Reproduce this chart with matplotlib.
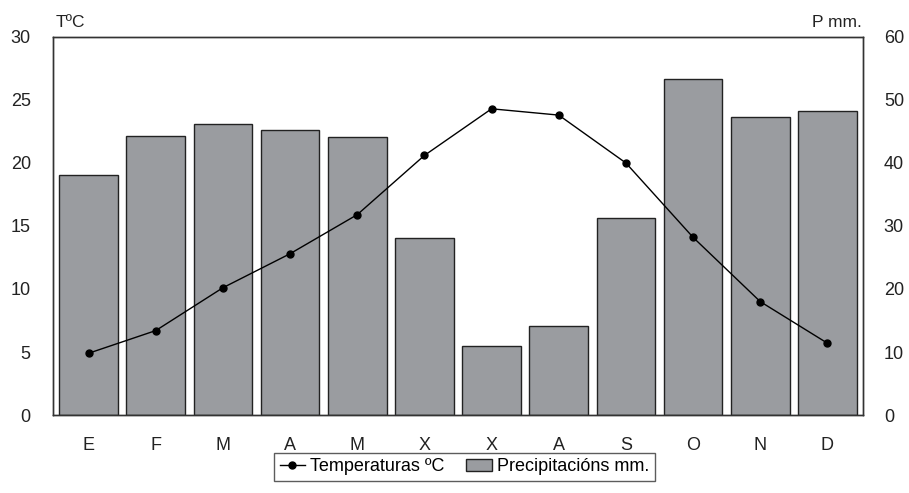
import numpy as np
import matplotlib.pyplot as plt
from matplotlib.lines import Line2D
from matplotlib.patches import Patch

plt.rcParams['font.family'] = ['Liberation Sans', 'DejaVu Sans']

months = ['E', 'F', 'M', 'A', 'M', 'X', 'X', 'A', 'S', 'O', 'N', 'D']
temp = [4.9, 6.7, 10.1, 12.8, 15.9, 20.6, 24.3, 23.8, 20.0, 14.1, 9.0, 5.7]
precip = [38.1, 44.3, 46.2, 45.2, 44.1, 28.1, 11.0, 14.1, 31.3, 53.3, 47.3, 48.3]

bar_color = '#9a9ca0'
x = np.arange(len(months))

fig = plt.figure(figsize=(9.09, 4.93), dpi=100)
ax = fig.add_axes([0.0583, 0.1582, 0.8911, 0.7668])
ax2 = ax.twinx()

ax2.bar(x, precip, width=0.875, color=bar_color, edgecolor='#222222', linewidth=1.0)
ax.plot(x, temp, color='black', linewidth=1.0, marker='o', markersize=5)

ax.set_zorder(ax2.zorder + 1)
ax.patch.set_visible(False)

ax.set_xlim(-0.53, 11.53)
ax.set_ylim(0, 30)
ax2.set_ylim(0, 60)
ax.set_yticks(range(0, 31, 5))
ax2.set_yticks(range(0, 61, 10))
ax.set_xticks(x)
ax.set_xticklabels(months)

for a in (ax, ax2):
    a.tick_params(length=0, labelsize=13, colors='#222222')
    for s in a.spines.values():
        s.set_color('#333333')
        s.set_linewidth(1.0)
ax.tick_params(axis='y', pad=16)
ax.tick_params(axis='x', pad=16)
ax2.tick_params(axis='y', pad=15)

fig.text(0.061, 0.955, 'TºC', fontsize=12.5, color='#222222', ha='left', va='center')
fig.text(0.948, 0.955, 'P mm.', fontsize=12.5, color='#222222', ha='right', va='center')

handles = [Line2D([0], [0], color='black', linewidth=1.0, marker='o', markersize=5),
           Patch(facecolor=bar_color, edgecolor='#222222', linewidth=1.0)]
leg = fig.legend(handles, ['Temperaturas ºC', 'Precipitacións mm.'],
                 loc='center', bbox_to_anchor=(0.511, 0.053), ncol=2,
                 fontsize=13, frameon=True, fancybox=False,
                 handlelength=1.4, handletextpad=0.3, columnspacing=1.2,
                 borderpad=0.3, borderaxespad=0)
leg.get_frame().set_edgecolor('#333333')
leg.get_frame().set_linewidth(1.0)

fig.savefig('out.png', dpi=100)
